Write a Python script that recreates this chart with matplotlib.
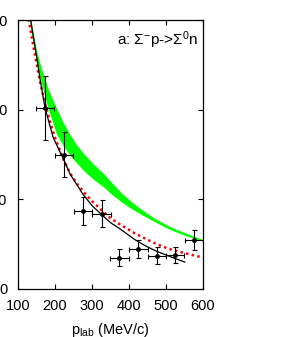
import matplotlib
matplotlib.use("Agg")
import matplotlib.pyplot as plt

plt.rcParams.update({
    "font.family": "Liberation Sans",
    "font.size": 10.5,
    "mathtext.fontset": "custom",
    "mathtext.rm": "Liberation Sans",
    "mathtext.it": "Liberation Sans:italic",
    "mathtext.bf": "Liberation Sans:bold",
})

# measured cross sections
p_data = [173, 224, 275, 326, 374, 425, 475, 524, 576]
sig_data = [20.2, 15.0, 8.7, 8.4, 3.5, 4.5, 3.7, 3.8, 5.5]
sig_err = [3.6, 2.5, 1.6, 1.5, 0.95, 1.0, 0.95, 0.9, 1.1]
p_err = [25, 25, 25, 25, 25, 25, 25, 25, 25]

# black solid model curve
p_black = [128, 134, 150, 160, 173, 185, 195, 210, 224, 241, 275, 300, 326, 350,
           376, 416, 445, 475, 512, 551]
sig_black = [32.5, 30.0, 26.0, 23.3, 20.2, 18.4, 16.9, 15.6, 14.4, 12.8, 10.6, 9.3,
             8.3, 7.4, 6.7, 5.5, 4.8, 4.2, 3.6, 3.0]

# red dotted model curve
p_red = [124, 129, 145, 160, 176, 188, 199, 220, 241, 260, 280, 300, 326, 350, 376,
         416, 445, 475, 506, 550, 575, 601]
sig_red = [32.0, 30.0, 26.3, 23.0, 20.2, 18.5, 17.0, 14.7, 12.9, 11.7, 10.7, 9.8,
           8.8, 7.9, 7.2, 6.2, 5.6, 5.0, 4.5, 4.0, 3.75, 3.5]

# green band
p_band = [130, 136, 150, 158, 165, 181, 192, 204, 222, 241, 260, 280, 305, 331, 355,
          380, 405, 430, 465, 500, 525, 550, 575, 601]
band_hi = [31.5, 29.8, 26.6, 25.4, 24.4, 22.4, 21.3, 20.2, 18.6, 17.2, 16.0, 15.0,
           13.9, 12.9, 11.8, 10.7, 9.8, 9.0, 8.0, 7.2, 6.7, 6.3, 5.9, 5.5]
band_lo = [31.0, 28.8, 25.5, 24.0, 22.7, 20.2, 18.8, 17.3, 16.0, 14.9, 14.0, 13.1,
           12.2, 11.4, 10.5, 9.7, 9.0, 8.4, 7.6, 6.85, 6.4, 6.0, 5.65, 5.35]

fig = plt.figure(figsize=(2.92, 3.37), dpi=100)
ax = fig.add_axes([18/292, 48/337, 185/292, 269/337])

ax.fill_between(p_band, band_lo, band_hi, color="#00ff00", lw=0, zorder=1)
ax.plot(p_red, sig_red, color="#ff0000", lw=1.8, dashes=(1, 1.3),
        dash_capstyle="butt", zorder=2)
ax.plot(p_black, sig_black, color="black", lw=0.9, zorder=3)
ax.errorbar(p_data, sig_data, yerr=sig_err, xerr=p_err, fmt="o", color="black",
            ms=2.5, elinewidth=0.8, capsize=1.8, capthick=0.8, zorder=4)

ax.set_xlim(100, 600)
ax.set_ylim(0, 30)
ax.set_xticks([100, 200, 300, 400, 500, 600])
ax.set_yticks([0, 10, 20, 30])
ax.set_yticklabels(["0", "10", "20", "30"])
ax.tick_params(direction="in", length=3.5, width=0.8, top=True, right=True)
ax.tick_params(axis="x", pad=7)
ax.tick_params(axis="y", pad=7.5)
for s in ax.spines.values():
    s.set_linewidth(0.9)

ax.set_xlabel(r"$\mathrm{p_{lab}}$ (MeV/c)", labelpad=6)
ax.text(0.975, 0.965, r"a: $\Sigma^{-}$p->$\Sigma^{0}$n", transform=ax.transAxes,
        ha="right", va="top", fontsize=11)

fig.savefig("out.png", dpi=100)
